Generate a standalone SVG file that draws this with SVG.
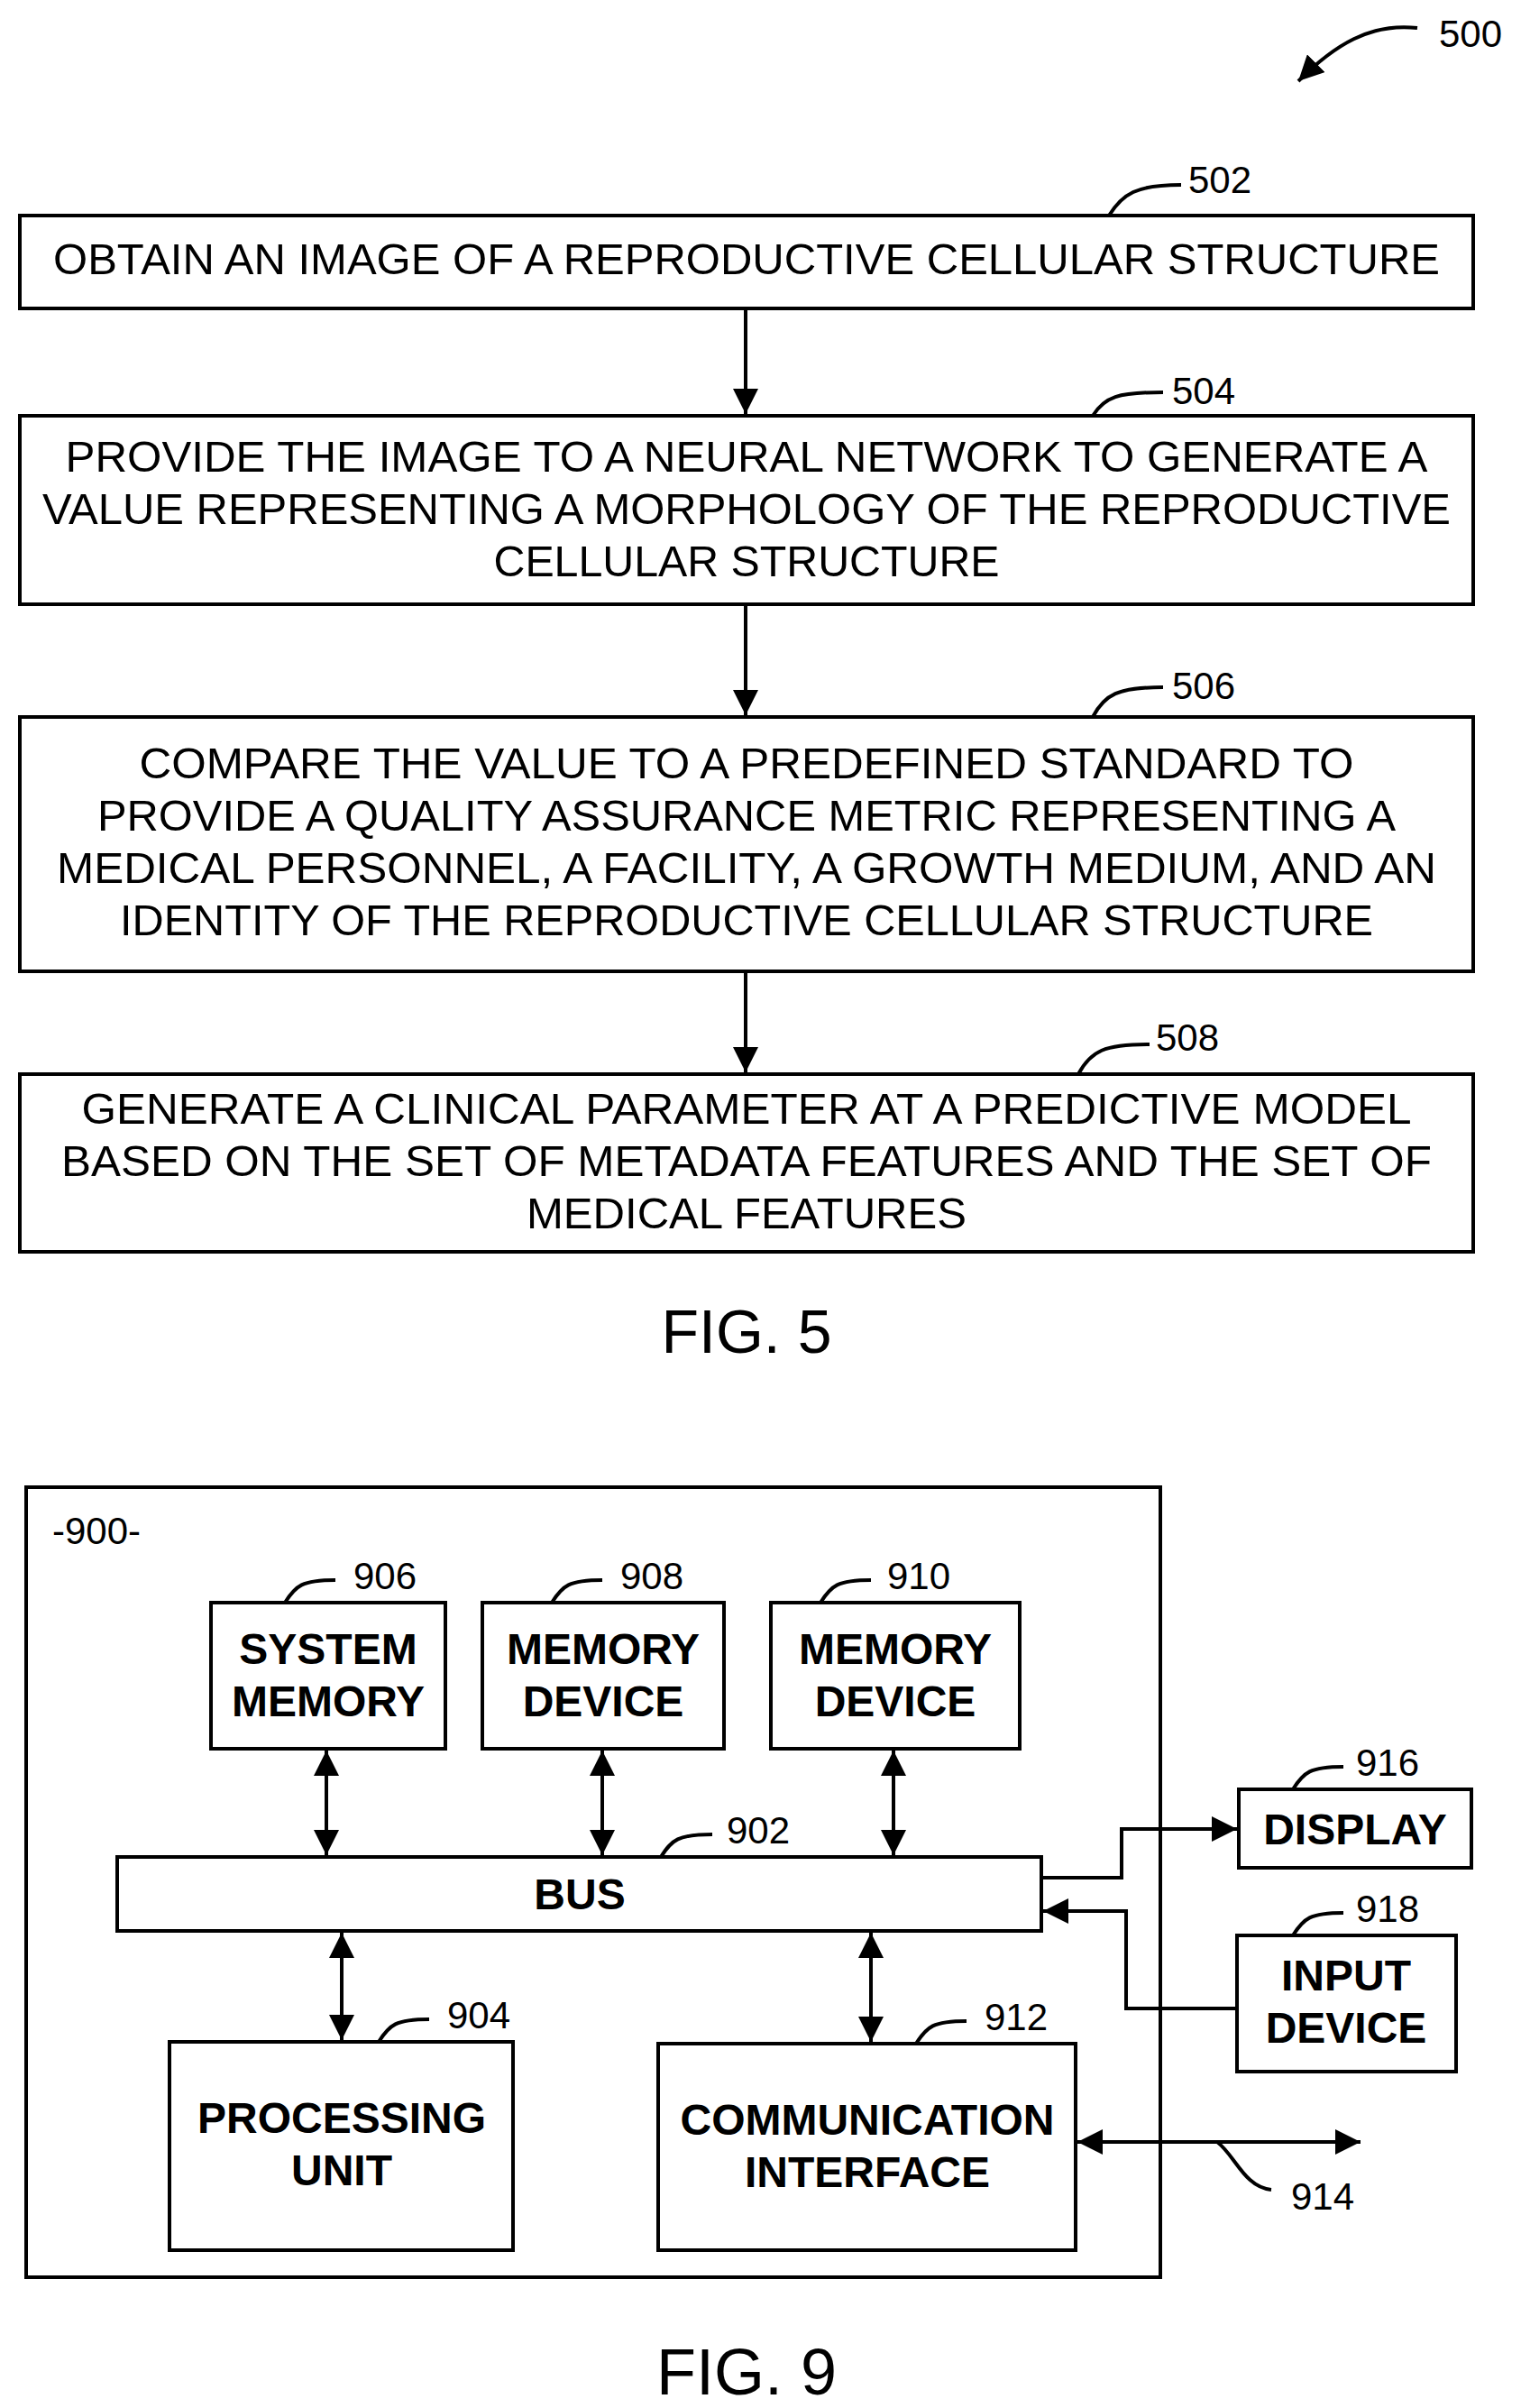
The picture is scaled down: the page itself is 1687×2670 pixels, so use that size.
<svg xmlns="http://www.w3.org/2000/svg" width="1687" height="2670" viewBox="0 0 1687 2670">
<style>
.b{fill:#fff;stroke:#000;stroke-width:4}
.t{font-family:"Liberation Sans",Arial,sans-serif;font-size:48px;text-anchor:middle;fill:#000}
.tb{font-family:"Liberation Sans",Arial,sans-serif;font-size:48px;font-weight:bold;text-anchor:middle;fill:#000}
.n{font-family:"Liberation Sans",Arial,sans-serif;font-size:42px;fill:#000}
.l{fill:none;stroke:#000;stroke-width:4}
</style>
<defs>
<marker id="a" viewBox="0 0 10 10" refX="10" refY="5" markerWidth="7" markerHeight="7" orient="auto-start-reverse" markerUnits="strokeWidth"><path d="M0,0L10,5L0,10z"/></marker>
</defs>
<rect width="1687" height="2670" fill="#fff"/>
<text class="n" x="1596" y="52">500</text>
<g id="n502"><rect class="b" x="22" y="239" width="1612" height="103"/>
<text class="t" x="828" y="304" textLength="1538" lengthAdjust="spacingAndGlyphs">OBTAIN AN IMAGE OF A REPRODUCTIVE CELLULAR STRUCTURE</text>
<text class="n" x="1318" y="214">502</text></g>
<g id="n504"><rect class="b" x="22" y="461" width="1612" height="209"/>
<text class="t" x="828" y="523" textLength="1511" lengthAdjust="spacingAndGlyphs">PROVIDE THE IMAGE TO A NEURAL NETWORK TO GENERATE A</text>
<text class="t" x="828" y="581" textLength="1562" lengthAdjust="spacingAndGlyphs">VALUE REPRESENTING A MORPHOLOGY OF THE REPRODUCTIVE</text>
<text class="t" x="828" y="639" textLength="561" lengthAdjust="spacingAndGlyphs">CELLULAR STRUCTURE</text>
<text class="n" x="1300" y="448">504</text></g>
<g id="n506"><rect class="b" x="22" y="795" width="1612" height="282"/>
<text class="t" x="828" y="863" textLength="1347" lengthAdjust="spacingAndGlyphs">COMPARE THE VALUE TO A PREDEFINED STANDARD TO</text>
<text class="t" x="828" y="921" textLength="1440" lengthAdjust="spacingAndGlyphs">PROVIDE A QUALITY ASSURANCE METRIC REPRESENTING A</text>
<text class="t" x="828" y="979" textLength="1530" lengthAdjust="spacingAndGlyphs">MEDICAL PERSONNEL, A FACILITY, A GROWTH MEDIUM, AND AN</text>
<text class="t" x="828" y="1037" textLength="1390" lengthAdjust="spacingAndGlyphs">IDENTITY OF THE REPRODUCTIVE CELLULAR STRUCTURE</text>
<text class="n" x="1300" y="775">506</text></g>
<g id="n508"><rect class="b" x="22" y="1191" width="1612" height="197"/>
<text class="t" x="828" y="1246" textLength="1475" lengthAdjust="spacingAndGlyphs">GENERATE A CLINICAL PARAMETER AT A PREDICTIVE MODEL</text>
<text class="t" x="828" y="1304" textLength="1520" lengthAdjust="spacingAndGlyphs">BASED ON THE SET OF METADATA FEATURES AND THE SET OF</text>
<text class="t" x="828" y="1362" textLength="488" lengthAdjust="spacingAndGlyphs">MEDICAL FEATURES</text>
<text class="n" x="1282" y="1165">508</text></g>
<text class="t" x="828" y="1500" style="font-size:68px">FIG. 5</text>
<g id="n900"><rect class="b" x="29" y="1649" width="1258" height="876"/>
<text class="n" x="58" y="1712">-900-</text></g>
<g id="n906"><rect class="b" x="234" y="1777" width="260" height="162"/>
<text class="tb" x="364" y="1845">SYSTEM</text><text class="tb" x="364" y="1903">MEMORY</text>
<text class="n" x="392" y="1762">906</text></g>
<g id="n908"><rect class="b" x="535" y="1777" width="268" height="162"/>
<text class="tb" x="669" y="1845">MEMORY</text><text class="tb" x="669" y="1903">DEVICE</text>
<text class="n" x="688" y="1762">908</text></g>
<g id="n910"><rect class="b" x="855" y="1777" width="276" height="162"/>
<text class="tb" x="993" y="1845">MEMORY</text><text class="tb" x="993" y="1903">DEVICE</text>
<text class="n" x="984" y="1762">910</text></g>
<g id="n902"><rect class="b" x="130" y="2059" width="1025" height="82"/>
<text class="tb" x="643" y="2117">BUS</text>
<text class="n" x="806" y="2044">902</text></g>
<g id="n904"><rect class="b" x="188" y="2264" width="381" height="231"/>
<text class="tb" x="379" y="2365">PROCESSING</text><text class="tb" x="379" y="2423">UNIT</text>
<text class="n" x="496" y="2249">904</text></g>
<g id="n912"><rect class="b" x="730" y="2266" width="463" height="229"/>
<text class="tb" x="962" y="2367">COMMUNICATION</text><text class="tb" x="962" y="2425">INTERFACE</text>
<text class="n" x="1092" y="2251">912</text></g>
<g id="n916"><rect class="b" x="1374" y="1984" width="258" height="87"/>
<text class="tb" x="1503" y="2045">DISPLAY</text>
<text class="n" x="1504" y="1969">916</text></g>
<g id="n918"><rect class="b" x="1372" y="2146" width="243" height="151"/>
<text class="tb" x="1493" y="2207">INPUT</text><text class="tb" x="1493" y="2265">DEVICE</text>
<text class="n" x="1504" y="2131">918</text></g>
<text class="n" x="1432" y="2450">914</text>
<text class="t" x="828" y="2655" style="font-size:72px">FIG. 9</text>
<g id="connectors">
<path class="l" d="M827,342V459" marker-end="url(#a)"/>
<path class="l" d="M827,670V793" marker-end="url(#a)"/>
<path class="l" d="M827,1077V1189" marker-end="url(#a)"/>
<path class="l" d="M1572,31C1520,25 1480,50 1440,90" marker-end="url(#a)"/>
<path class="l" d="M1230,239C1245,215 1260,205 1310,205"/>
<path class="l" d="M1212,461C1225,440 1240,435 1290,435"/>
<path class="l" d="M1212,795C1225,770 1240,762 1290,762"/>
<path class="l" d="M1196,1191C1210,1165 1225,1158 1275,1158"/>
<path class="l" d="M362,1941V2057" marker-start="url(#a)" marker-end="url(#a)"/>
<path class="l" d="M668,1941V2057" marker-start="url(#a)" marker-end="url(#a)"/>
<path class="l" d="M991,1941V2057" marker-start="url(#a)" marker-end="url(#a)"/>
<path class="l" d="M379,2143V2262" marker-start="url(#a)" marker-end="url(#a)"/>
<path class="l" d="M966,2143V2264" marker-start="url(#a)" marker-end="url(#a)"/>
<path class="l" d="M1157,2082H1244V2028H1372" marker-end="url(#a)"/>
<path class="l" d="M1372,2227H1249V2119H1157" marker-end="url(#a)"/>
<path class="l" d="M1195,2375H1509" marker-start="url(#a)" marker-end="url(#a)"/>
<path class="l" d="M1350,2375C1370,2390 1380,2425 1410,2428"/>
<path class="l" d="M316,1777C328,1758 335,1752 372,1752"/>
<path class="l" d="M612,1777C624,1758 631,1752 668,1752"/>
<path class="l" d="M910,1777C922,1758 929,1752 966,1752"/>
<path class="l" d="M733,2059C745,2040 752,2034 790,2034"/>
<path class="l" d="M420,2264C432,2245 439,2239 476,2239"/>
<path class="l" d="M1016,2266C1028,2247 1035,2241 1072,2241"/>
<path class="l" d="M1434,1984C1446,1965 1453,1959 1490,1959"/>
<path class="l" d="M1434,2146C1446,2127 1453,2121 1490,2121"/>
</g>
</svg>
